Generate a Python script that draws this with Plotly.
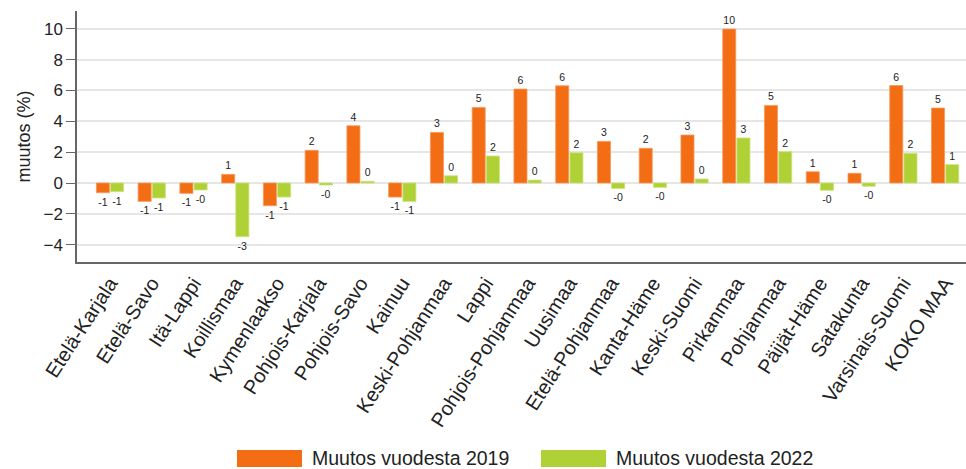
import plotly.graph_objects as go

categories = ["Etelä-Karjala", "Etelä-Savo", "Itä-Lappi", "Koillismaa", "Kymenlaakso",
              "Pohjois-Karjala", "Pohjois-Savo", "Kainuu", "Keski-Pohjanmaa", "Lappi",
              "Pohjois-Pohjanmaa", "Uusimaa", "Etelä-Pohjanmaa", "Kanta-Häme", "Keski-Suomi",
              "Pirkanmaa", "Pohjanmaa", "Päijät-Häme", "Satakunta", "Varsinais-Suomi", "KOKO MAA"]

name_2019 = "Muutos vuodesta 2019"
name_2022 = "Muutos vuodesta 2022"

change_2019 = [-0.63, -1.19, -0.67, 0.56, -1.47, 2.12, 3.71, -0.91, 3.28, 4.90,
               6.09, 6.30, 2.70, 2.25, 3.11, 9.98, 5.03, 0.73, 0.63, 6.32, 4.86]
change_2022 = [-0.56, -0.97, -0.45, -3.48, -0.91, -0.13, 0.11, -1.19, 0.47, 1.75,
               0.19, 1.96, -0.35, -0.28, 0.26, 2.92, 2.03, -0.47, -0.21, 1.92, 1.19]

y_ticks = [-4, -2, 0, 2, 4, 6, 8, 10]
y_title = "muutos (%)"

orange = "#F26D14"
orange_edge = "#F7995B"
green = "#AFD136"
green_edge = "#C9E27A"
font_family = "Arial, Liberation Sans, sans-serif"

fig = go.Figure()
for name, vals, col, edge in [(name_2019, change_2019, orange, orange_edge),
                              (name_2022, change_2022, green, green_edge)]:
    fig.add_trace(go.Bar(
        x=categories, y=vals, name=name,
        marker=dict(color=col, line=dict(width=0.8, color=edge)),
        text=[f"{v:.0f}" for v in vals], textposition="outside",
        textfont=dict(size=10.5, color="#222222", family=font_family),
        cliponaxis=False, showlegend=False,
    ))

n = len(categories)
fig.update_layout(
    width=966, height=469,
    margin=dict(l=77, r=0, t=11, b=207),
    plot_bgcolor="white", paper_bgcolor="white",
    barmode="group", bargap=0.32, bargroupgap=0.08,
    font=dict(family=font_family, color="#222222"),
    xaxis=dict(
        range=[-0.79, n - 1 + 0.5],
        tickangle=-57, tickfont=dict(size=20, color="#222222"),
        showline=True, linecolor="#666666", linewidth=1.5,
        ticks="", showgrid=False, mirror=False,
    ),
    yaxis=dict(
        range=[-5.12, 11.15],
        tickvals=y_ticks, tickfont=dict(size=17, color="#222222"),
        ticks="outside", ticklen=9, tickcolor="#666666", tickwidth=1.2,
        showline=True, linecolor="#666666", linewidth=1.5,
        showgrid=True, gridcolor="#E6E6E6", gridwidth=1.5,
        zeroline=False,
        title=dict(text=y_title, font=dict(size=18, color="#222222"), standoff=8),
    ),
)

# manual legend with wide swatches
plot_h = 469 - 11 - 207
plot_w = 966 - 77
def px(xp):
    return (xp - 77) / plot_w
def py(yp):
    return (469 - 207 - yp) / plot_h

legend_items = [(name_2019, orange, 237, 302, 310), (name_2022, green, 541, 606, 614)]
for name, col, x0, x1, xt in legend_items:
    fig.add_shape(type="rect", xref="paper", yref="paper",
                  x0=px(x0), x1=px(x1), y0=py(467), y1=py(450),
                  fillcolor=col, line=dict(width=0))
    fig.add_annotation(xref="paper", yref="paper", x=px(xt), y=py(457.5),
                       text=name, showarrow=False, xanchor="left", yanchor="middle",
                       font=dict(size=19.5, color="#222222", family=font_family))

fig.write_html("out.html", config={"displayModeBar": False},
               post_script="document.body.style.margin='0';document.body.style.overflow='hidden';")
